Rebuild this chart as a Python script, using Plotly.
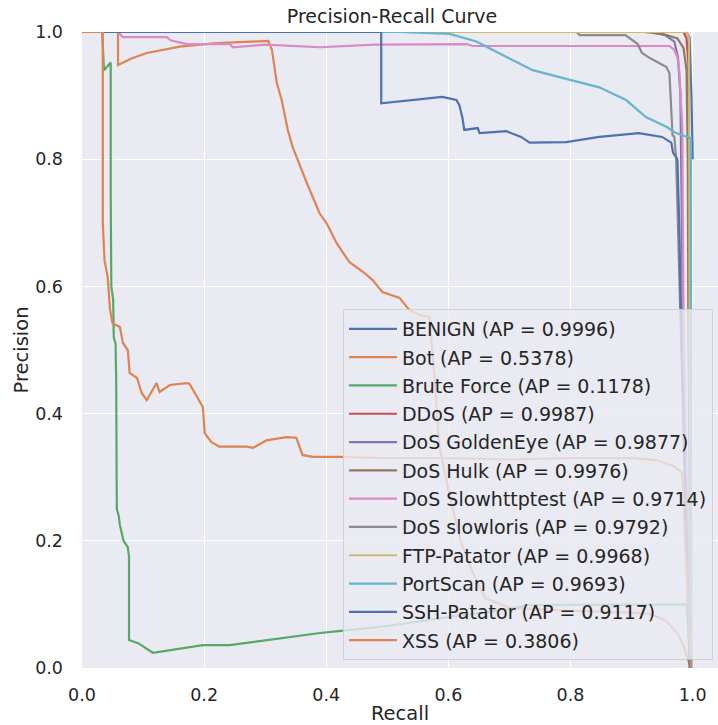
import plotly.graph_objects as go

class_names = ["BENIGN", "Bot", "Brute Force", "DDoS", "DoS GoldenEye", "DoS Hulk",
               "DoS Slowhttptest", "DoS slowloris", "FTP-Patator", "PortScan",
               "SSH-Patator", "XSS"]
ap_scores = [0.9996, 0.5378, 0.1178, 0.9987, 0.9877, 0.9976,
             0.9714, 0.9792, 0.9968, 0.9693, 0.9117, 0.3806]
colors = ["#4c72b0", "#dd8452", "#55a868", "#c44e52", "#8172b3", "#937860",
          "#da8bc3", "#8c8c8c", "#ccb974", "#64b5cd", "#4c72b0", "#dd8452"]

recall_benign = [0.0, 0.99, 0.995, 0.998, 1.0]
precision_benign = [1.0, 1.0, 0.99, 0.9, 0.8]

recall_bot = [0.0, 0.059, 0.059, 0.08, 0.106, 0.16, 0.215, 0.26, 0.305, 0.311, 0.319,
              0.327, 0.337, 0.345, 0.353, 0.368, 0.389, 0.4, 0.406, 0.417, 0.438, 0.46,
              0.476, 0.492, 0.52, 0.536, 0.553, 0.569, 0.578, 0.585, 0.6, 0.62, 0.64,
              0.66, 0.7, 0.8, 0.9, 0.93, 0.955, 0.975, 0.985, 0.997]
precision_bot = [1.0, 1.0, 0.948, 0.958, 0.967, 0.977, 0.982, 0.984, 0.986, 0.972, 0.92,
                 0.893, 0.846, 0.819, 0.799, 0.763, 0.715, 0.7, 0.689, 0.668, 0.638, 0.623,
                 0.61, 0.591, 0.582, 0.563, 0.555, 0.552, 0.45, 0.35, 0.28, 0.2, 0.15,
                 0.11, 0.095, 0.09, 0.087, 0.085, 0.075, 0.055, 0.035, 0.0]

recall_brute = [0.0, 0.033, 0.036, 0.047, 0.047, 0.048, 0.051, 0.052, 0.055, 0.056, 0.057,
                0.06, 0.062, 0.068, 0.075, 0.077, 0.077, 0.092, 0.116, 0.198, 0.242, 0.324,
                0.39, 0.42, 0.5, 0.6, 0.7, 0.73, 0.9, 0.99, 0.997]
precision_brute = [1.0, 1.0, 0.94, 0.952, 0.75, 0.6, 0.58, 0.52, 0.51, 0.45, 0.25,
                   0.24, 0.225, 0.2, 0.19, 0.175, 0.044, 0.039, 0.024, 0.036, 0.036, 0.047,
                   0.055, 0.058, 0.066, 0.08, 0.093, 0.099, 0.1, 0.1, 0.0]

recall_ddos = [0.0, 0.985, 0.99, 0.993, 0.994, 0.997]
precision_ddos = [1.0, 1.0, 0.99, 0.95, 0.55, 0.0]

recall_goldeneye = [0.0, 0.93, 0.955, 0.97, 0.976, 0.98, 0.984, 0.996]
precision_goldeneye = [1.0, 1.0, 0.995, 0.985, 0.96, 0.9, 0.55, 0.0]

recall_hulk = [0.0, 0.92, 0.95, 0.975, 0.985, 0.99, 0.992, 0.993, 0.997]
precision_hulk = [1.0, 1.0, 0.997, 0.99, 0.975, 0.94, 0.8, 0.55, 0.0]

recall_slowhttp = [0.0, 0.059, 0.067, 0.139, 0.145, 0.172, 0.242, 0.247, 0.3, 0.38, 0.39,
                   0.48, 0.63, 0.64, 0.962, 0.97, 0.975, 0.978, 0.983, 0.985, 0.996]
precision_slowhttp = [1.0, 1.0, 0.992, 0.992, 0.987, 0.981, 0.981, 0.976, 0.98, 0.977, 0.976,
                      0.98, 0.981, 0.978, 0.978, 0.972, 0.96, 0.94, 0.85, 0.55, 0.0]

recall_slowloris = [0.0, 0.81, 0.815, 0.89, 0.91, 0.917, 0.93, 0.957, 0.962, 0.967, 0.97,
                    0.973, 0.98, 0.996]
precision_slowloris = [1.0, 1.0, 0.995, 0.995, 0.981, 0.967, 0.959, 0.945, 0.935, 0.838, 0.835,
                       0.8, 0.55, 0.0]

recall_ftp = [0.0, 0.99, 0.994, 0.995, 0.998]
precision_ftp = [1.0, 1.0, 0.99, 0.55, 0.0]

recall_portscan = [0.0, 0.52, 0.602, 0.646, 0.672, 0.705, 0.738, 0.782, 0.847, 0.891, 0.924,
                   0.957, 0.973, 0.997, 0.997, 0.998]
precision_portscan = [1.0, 1.0, 0.997, 0.985, 0.972, 0.956, 0.94, 0.929, 0.913, 0.893, 0.866,
                      0.851, 0.841, 0.833, 0.55, 0.0]

recall_ssh = [0.0, 0.49, 0.49, 0.59, 0.613, 0.618, 0.623, 0.626, 0.648, 0.651, 0.695, 0.711,
              0.719, 0.733, 0.793, 0.847, 0.88, 0.912, 0.95, 0.965, 0.968, 0.975, 0.978,
              0.981, 0.995]
precision_ssh = [1.0, 1.0, 0.888, 0.898, 0.893, 0.885, 0.865, 0.846, 0.849, 0.841, 0.844, 0.838,
                 0.835, 0.826, 0.827, 0.835, 0.838, 0.841, 0.835, 0.826, 0.81, 0.8, 0.7,
                 0.55, 0.0]

recall_xss = [0.0, 0.034, 0.034, 0.037, 0.042, 0.046, 0.05, 0.062, 0.067, 0.075, 0.078, 0.09,
              0.098, 0.106, 0.122, 0.127, 0.144, 0.171, 0.176, 0.185, 0.198, 0.201, 0.212,
              0.225, 0.27, 0.28, 0.302, 0.335, 0.351, 0.361, 0.378, 0.42, 0.5, 0.6, 0.7,
              0.8, 0.9, 0.94, 0.97, 0.983, 0.997]
precision_xss = [1.0, 1.0, 0.70, 0.64, 0.615, 0.563, 0.542, 0.536, 0.511, 0.5, 0.464, 0.456,
                 0.432, 0.421, 0.448, 0.434, 0.445, 0.448, 0.447, 0.432, 0.41, 0.369, 0.355,
                 0.348, 0.348, 0.346, 0.358, 0.363, 0.362, 0.335, 0.332, 0.332, 0.33, 0.33,
                 0.328, 0.33, 0.33, 0.327, 0.317, 0.307, 0.0]

recalls = [recall_benign, recall_bot, recall_brute, recall_ddos, recall_goldeneye, recall_hulk,
           recall_slowhttp, recall_slowloris, recall_ftp, recall_portscan, recall_ssh, recall_xss]
precisions = [precision_benign, precision_bot, precision_brute, precision_ddos,
              precision_goldeneye, precision_hulk, precision_slowhttp, precision_slowloris,
              precision_ftp, precision_portscan, precision_ssh, precision_xss]

text_color = "#262626"
font_family = "DejaVu Sans"

fig = go.Figure()
for name, ap, col, r, p in zip(class_names, ap_scores, colors, recalls, precisions):
    fig.add_trace(go.Scatter(
        x=r, y=p, mode="lines",
        name=f"{name} (AP = {ap:.4f})",
        legendgroup=name,
        line=dict(color=col, width=2.2),
    ))

fig.update_layout(
    width=718, height=725,
    margin=dict(l=82, r=0, t=32, b=57, autoexpand=False),
    paper_bgcolor="white",
    plot_bgcolor="#eaeaf2",
    font=dict(family=font_family, color=text_color, size=17.5),
    title=dict(text="Precision-Recall Curve", x=392 / 718, xanchor="center",
               y=1 - 16 / 725, yanchor="middle",
               font=dict(size=19, color=text_color, family=font_family)),
    legend=dict(
        x=0.9921, xanchor="right", y=0.0126, yanchor="bottom",
        bgcolor="rgba(234,234,242,0.8)", bordercolor="rgba(204,204,204,0.8)", borderwidth=1,
        font=dict(size=19, color=text_color, family=font_family),
        itemwidth=48, tracegroupgap=0.6,
    ),
    showlegend=True,
)
fig.update_xaxes(
    range=[0, 1.0415], tickvals=[0.0, 0.2, 0.4, 0.6, 0.8, 1.0], tickformat=".1f",
    showgrid=True, gridcolor="white", gridwidth=1.3, zeroline=False, showline=False,
    ticks="", ticklabelstandoff=14,
    title=dict(text="Recall", font=dict(size=19.5, color=text_color), standoff=4),
)
fig.update_yaxes(
    range=[0, 1.0], tickvals=[0.0, 0.2, 0.4, 0.6, 0.8, 1.0], tickformat=".1f",
    showgrid=True, gridcolor="white", gridwidth=1.3, zeroline=False, showline=False,
    ticks="", ticklabelstandoff=18,
    title=dict(text="Precision", font=dict(size=19.5, color=text_color), standoff=1),
)

fig.write_html(
    "out.html",
    config={"displayModeBar": False},
    post_script="document.body.style.margin='0';document.body.style.padding='0';",
)
